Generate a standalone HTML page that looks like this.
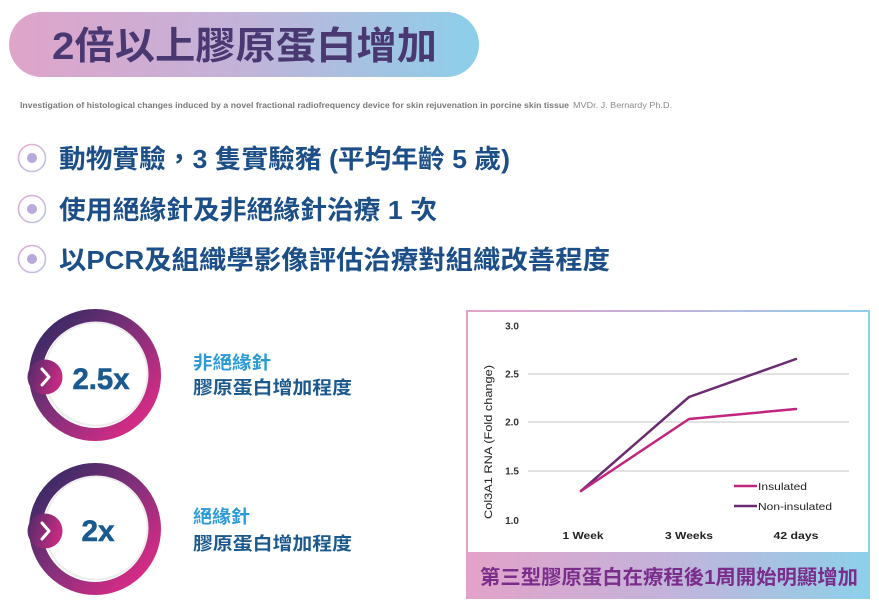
<!DOCTYPE html>
<html>
<head>
<meta charset="utf-8">
<style>
html,body{margin:0;padding:0;background:#fff;}
body{width:879px;height:606px;overflow:hidden;}
svg{display:block;}
text{font-family:"Liberation Sans","Noto Sans CJK TC",sans-serif;}
</style>
</head>
<body>
<svg width="879" height="606" viewBox="0 0 879 606" xmlns="http://www.w3.org/2000/svg">
<defs>
  <linearGradient id="pill" x1="0" y1="0" x2="1" y2="0">
    <stop offset="0" stop-color="#e0a4ca"/>
    <stop offset="0.5" stop-color="#c2b3d9"/>
    <stop offset="1" stop-color="#8ccfea"/>
  </linearGradient>
  <linearGradient id="bul" x1="0" y1="0" x2="1" y2="1">
    <stop offset="0" stop-color="#e6a9cc"/>
    <stop offset="1" stop-color="#b7c6e8"/>
  </linearGradient>
  <linearGradient id="ring" x1="0.1" y1="0.1" x2="0.9" y2="0.9">
    <stop offset="0" stop-color="#3e2a66"/>
    <stop offset="0.5" stop-color="#86307a"/>
    <stop offset="1" stop-color="#d82b86"/>
  </linearGradient>
  <linearGradient id="tab" x1="0" y1="0" x2="1" y2="0.3">
    <stop offset="0" stop-color="#4a2b68"/>
    <stop offset="1" stop-color="#c52a82"/>
  </linearGradient>
  <linearGradient id="band" x1="0" y1="0" x2="1" y2="0">
    <stop offset="0" stop-color="#e3a2c9"/>
    <stop offset="0.5" stop-color="#c3b3da"/>
    <stop offset="1" stop-color="#8dd0ea"/>
  </linearGradient>
</defs>

<!-- Title pill -->
<rect x="9" y="12" width="470" height="65" rx="32.5" fill="url(#pill)"/>
<text x="52" y="59" font-size="38" font-weight="bold" fill="#4a3872" textLength="385" lengthAdjust="spacingAndGlyphs">2倍以上膠原蛋白增加</text>

<!-- Citation -->
<text x="20" y="108" font-size="8" font-weight="bold" fill="#7a7a7a" textLength="549" lengthAdjust="spacingAndGlyphs">Investigation of histological changes induced by a novel fractional radiofrequency device for skin rejuvenation in porcine skin tissue</text>
<text x="573" y="108" font-size="8" fill="#8a8a8a" textLength="99" lengthAdjust="spacingAndGlyphs">MVDr. J. Bernardy Ph.D.</text>

<!-- Bullets -->
<g>
  <circle cx="32" cy="158" r="13.5" fill="#fff" stroke="url(#bul)" stroke-width="1.6"/>
  <circle cx="32" cy="158" r="5" fill="#b7a9da"/>
  <circle cx="32" cy="209" r="13.5" fill="#fff" stroke="url(#bul)" stroke-width="1.6"/>
  <circle cx="32" cy="209" r="5" fill="#b7a9da"/>
  <circle cx="32" cy="259" r="13.5" fill="#fff" stroke="url(#bul)" stroke-width="1.6"/>
  <circle cx="32" cy="259" r="5" fill="#b7a9da"/>
</g>
<text x="59" y="168" font-size="26" font-weight="bold" fill="#1c4f88" textLength="451" lengthAdjust="spacingAndGlyphs">動物實驗，3 隻實驗豬 (平均年齡 5 歲)</text>
<text x="59" y="219" font-size="26" font-weight="bold" fill="#1c4f88" textLength="378" lengthAdjust="spacingAndGlyphs">使用絕緣針及非絕緣針治療 1 次</text>
<text x="59" y="269" font-size="26" font-weight="bold" fill="#1c4f88" textLength="551" lengthAdjust="spacingAndGlyphs">以PCR及組織學影像評估治療對組織改善程度</text>

<!-- Circle 1 -->
<circle cx="95" cy="375" r="59.5" fill="#fff" stroke="url(#ring)" stroke-width="13"/>
<circle cx="96" cy="374" r="51.5" fill="none" stroke="#ececec" stroke-width="2"/>
<circle cx="45" cy="377" r="17.5" fill="url(#tab)"/>
<path d="M42,369 L49,377 L42,385" fill="none" stroke="#fff" stroke-width="3" stroke-linecap="round" stroke-linejoin="round"/>
<text x="101" y="389" font-size="30" font-weight="bold" fill="#1b5a8f" stroke="#1b5a8f" stroke-width="0.6" text-anchor="middle" textLength="57" lengthAdjust="spacingAndGlyphs">2.5x</text>

<!-- Circle 2 -->
<circle cx="95" cy="529" r="59.5" fill="#fff" stroke="url(#ring)" stroke-width="13"/>
<circle cx="96" cy="528" r="51.5" fill="none" stroke="#ececec" stroke-width="2"/>
<circle cx="45" cy="531" r="17.5" fill="url(#tab)"/>
<path d="M42,523 L49,531 L42,539" fill="none" stroke="#fff" stroke-width="3" stroke-linecap="round" stroke-linejoin="round"/>
<text x="98" y="541" font-size="30" font-weight="bold" fill="#1b5a8f" stroke="#1b5a8f" stroke-width="0.6" text-anchor="middle" textLength="33" lengthAdjust="spacingAndGlyphs">2x</text>

<!-- Labels -->
<text x="193" y="369" font-size="18" font-weight="bold" fill="#2b9ad6" textLength="78" lengthAdjust="spacingAndGlyphs">非絕緣針</text>
<text x="193" y="394" font-size="18" font-weight="bold" fill="#1c5a8e" textLength="159" lengthAdjust="spacingAndGlyphs">膠原蛋白增加程度</text>
<text x="193" y="523" font-size="18" font-weight="bold" fill="#2b9ad6" textLength="57" lengthAdjust="spacingAndGlyphs">絕緣針</text>
<text x="193" y="550" font-size="18" font-weight="bold" fill="#1c5a8e" textLength="159" lengthAdjust="spacingAndGlyphs">膠原蛋白增加程度</text>

<!-- Chart box -->
<rect x="467" y="311" width="402" height="287" fill="#fff" stroke="url(#band)" stroke-width="2"/>
<rect x="467" y="552" width="402" height="46" fill="url(#band)"/>
<text x="480" y="584" font-size="20" font-weight="bold" fill="#7b2d8c" textLength="378" lengthAdjust="spacingAndGlyphs">第三型膠原蛋白在療程後1周開始明顯增加</text>

<!-- gridlines -->
<g stroke="#d8d8d8" stroke-width="1.5">
  <line x1="528" y1="374" x2="849" y2="374"/>
  <line x1="528" y1="422" x2="849" y2="422"/>
  <line x1="528" y1="471" x2="849" y2="471"/>
</g>
<!-- tick labels -->
<g font-size="10" font-weight="bold" fill="#333" text-anchor="end">
  <text x="519" y="329.5">3.0</text>
  <text x="519" y="377.5">2.5</text>
  <text x="519" y="425.5">2.0</text>
  <text x="519" y="474.5">1.5</text>
  <text x="519" y="524">1.0</text>
</g>
<text transform="translate(492,442) rotate(-90)" font-size="11" fill="#222" text-anchor="middle" textLength="154" lengthAdjust="spacingAndGlyphs">Col3A1 RNA (Fold change)</text>

<!-- x labels -->
<g font-size="10.5" font-weight="bold" fill="#222" text-anchor="middle">
  <text x="583" y="539" textLength="41" lengthAdjust="spacingAndGlyphs">1 Week</text>
  <text x="689" y="539" textLength="48" lengthAdjust="spacingAndGlyphs">3 Weeks</text>
  <text x="796" y="539" textLength="45" lengthAdjust="spacingAndGlyphs">42 days</text>
</g>

<!-- series -->
<polyline points="581,491 689,397 796,359" fill="none" stroke="#6a2b70" stroke-width="2.5" stroke-linejoin="round" stroke-linecap="round"/>
<polyline points="581,491 689,419 796,409" fill="none" stroke="#c1267f" stroke-width="2.5" stroke-linejoin="round" stroke-linecap="round"/>

<!-- legend -->
<line x1="734" y1="486" x2="757" y2="486" stroke="#c1267f" stroke-width="2.5"/>
<text x="758" y="490" font-size="10.5" fill="#222" textLength="49" lengthAdjust="spacingAndGlyphs">Insulated</text>
<line x1="734" y1="506" x2="757" y2="506" stroke="#6a2b70" stroke-width="2.5"/>
<text x="758" y="510" font-size="10.5" fill="#222" textLength="74" lengthAdjust="spacingAndGlyphs">Non-insulated</text>
</svg>
</body>
</html>
